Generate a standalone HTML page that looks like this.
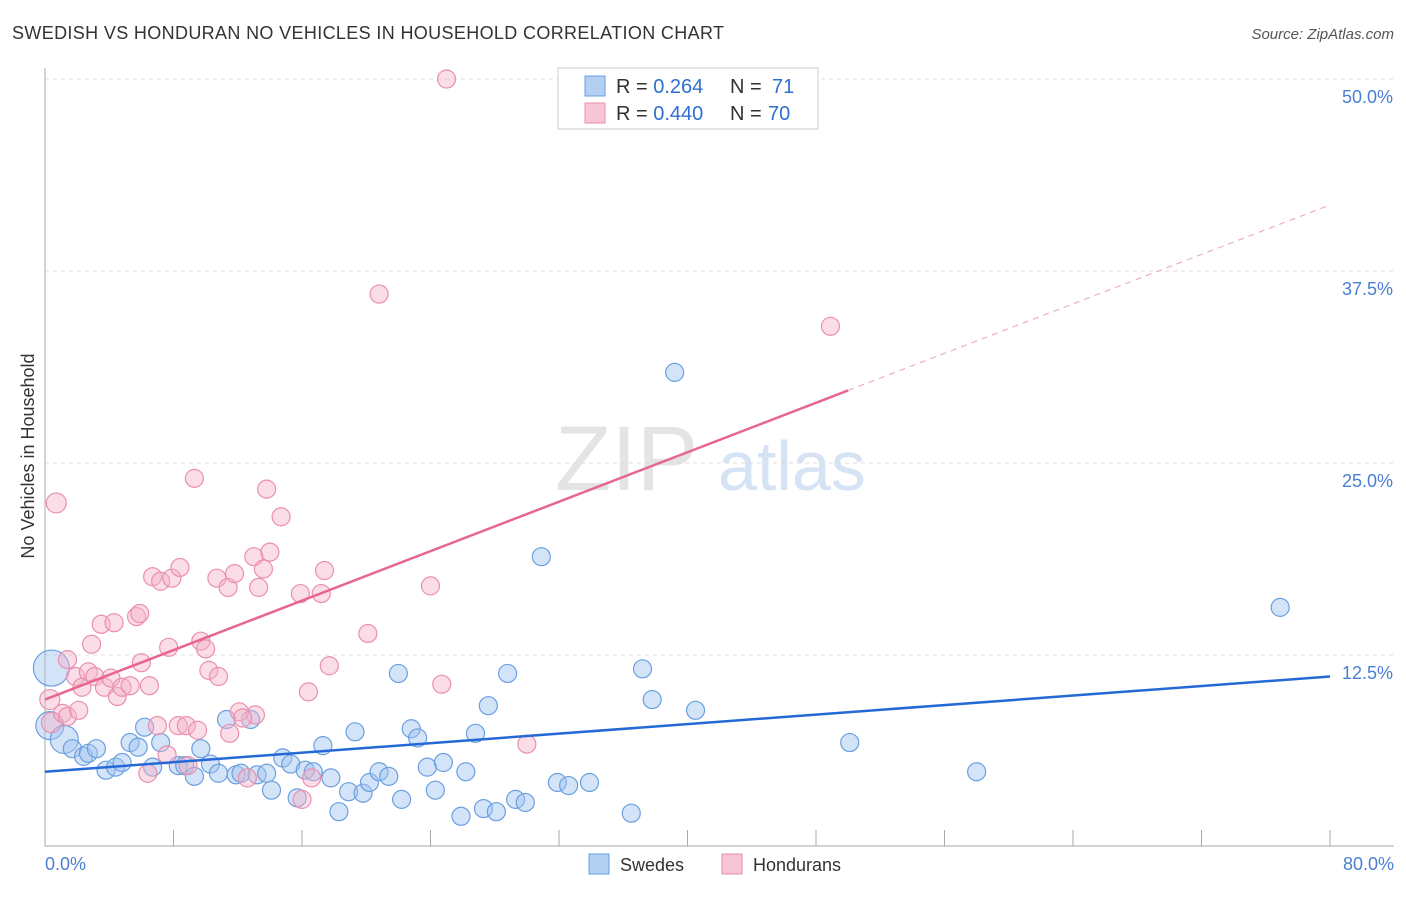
<!DOCTYPE html>
<html><head><meta charset="utf-8"><style>
body{margin:0;background:#fff;font-family:"Liberation Sans",sans-serif;}
svg text{font-family:"Liberation Sans",sans-serif;}
</style></head><body>
<svg id="chart" width="1406" height="892" xmlns="http://www.w3.org/2000/svg">
<text x="12" y="39" font-size="18" fill="#333" textLength="712">SWEDISH VS HONDURAN NO VEHICLES IN HOUSEHOLD CORRELATION CHART</text>
<text x="1394" y="39" font-size="15" font-style="italic" fill="#555" text-anchor="end">Source: ZipAtlas.com</text>
<text x="555" y="490" font-size="92" fill="#e4e4e4" font-family="Liberation Serif">ZIP</text>
<text x="718" y="490" font-size="70" fill="#d6e3f5">atlas</text>
<text transform="translate(34,456) rotate(-90)" font-size="18" fill="#333" text-anchor="middle">No Vehicles in Household</text>
<g id="grid"></g><g id="pts"></g><g id="lines"></g>
<rect x="558" y="68" width="260" height="61" fill="#fff" stroke="#ccc"/>
<rect x="585" y="76" width="20" height="20" fill="#b3cff2" stroke="#6a9fe0"/>
<text x="616" y="93" font-size="20" fill="#333">R = <tspan fill="#2e6fd1">0.264</tspan></text>
<text x="730" y="93" font-size="20" fill="#333">N = <tspan x="772" fill="#2e6fd1">71</tspan></text>
<rect x="585" y="103" width="20" height="20" fill="#f8c5d5" stroke="#eb8fae"/>
<text x="616" y="120" font-size="20" fill="#333">R = <tspan fill="#2e6fd1">0.440</tspan></text>
<text x="730" y="120" font-size="20" fill="#333">N = <tspan x="768" fill="#2e6fd1">70</tspan></text>
<text x="45" y="870" font-size="18" fill="#4a7fd4">0.0%</text>
<text x="1394" y="870" font-size="18" fill="#4a7fd4" text-anchor="end">80.0%</text>
<rect x="589" y="854" width="20" height="20" fill="#b3cff2" stroke="#6a9fe0"/>
<text x="620" y="871" font-size="18" fill="#333">Swedes</text>
<rect x="722" y="854" width="20" height="20" fill="#f8c5d5" stroke="#eb8fae"/>
<text x="753" y="871" font-size="18" fill="#333">Hondurans</text>
</svg>
<script>
const yTicks=[12.5,25,37.5,50];
const yTickLabels=["12.5%","25.0%","37.5%","50.0%"];
const xTicks=[0,8,16,24,32,40,48,56,64,72,80];
const swedesX=[0.4,0.3,1.2,1.7,2.4,2.7,3.2,3.8,4.4,4.8,5.3,5.8,6.2,6.7,7.2,8.3,8.7,9.3,9.7,10.3,10.8,11.3,11.9,12.2,12.8,13.2,13.8,14.1,14.8,15.3,15.7,16.2,16.7,17.3,17.8,18.3,18.9,19.3,19.8,20.2,20.8,21.4,22.0,22.2,22.8,23.2,23.8,24.3,24.8,25.9,26.2,26.8,27.3,27.6,28.1,28.8,29.3,29.9,30.9,31.9,32.6,33.9,36.5,37.2,37.8,39.2,40.5,50.1,58.0,76.9];
const swedesY=[11.65,7.9,7.0,6.4,5.9,6.1,6.4,5.0,5.2,5.5,6.8,6.5,7.8,5.2,6.8,5.3,5.3,4.6,6.4,5.4,4.8,8.3,4.7,4.8,8.3,4.7,4.8,3.7,5.8,5.4,3.2,5.0,4.9,6.6,4.5,2.3,3.6,7.5,3.5,4.2,4.9,4.6,11.3,3.1,7.7,7.1,5.2,3.7,5.5,2.0,4.9,7.4,2.5,9.2,2.3,11.3,3.1,2.9,18.9,4.2,4.0,4.2,2.2,11.6,9.6,30.9,8.9,6.8,4.9,15.6];
const hondX=[0.7,0.3,0.4,1.1,1.4,2.1,1.4,1.9,2.3,2.7,2.9,3.1,3.5,3.7,4.1,4.3,4.5,4.8,5.3,5.7,5.9,6.0,6.5,6.7,7.2,7.7,7.9,8.4,8.3,8.8,7.0,9.5,11.5,12.1,13.1,12.3,6.4,7.6,8.9,12.6,16.6,16.0,9.7,10.0,10.2,10.7,10.8,11.4,11.8,13.0,13.3,13.6,14.0,13.8,14.7,15.9,17.2,17.4,17.7,16.4,20.1,20.8,24.0,24.7,25.0,30.0,48.9,9.3];
const hondY=[22.4,9.6,8.1,8.7,8.5,8.9,12.2,11.1,10.4,11.4,13.2,11.1,14.5,10.4,11.0,14.6,9.8,10.4,10.5,15.0,15.2,12.0,10.5,17.6,17.3,13.0,17.5,18.2,7.9,7.9,7.9,7.6,7.4,8.8,8.6,8.4,4.8,6.0,5.3,4.5,4.5,3.1,13.4,12.9,11.5,17.5,11.1,16.9,17.8,18.9,16.9,18.1,19.2,23.3,21.5,16.5,16.5,18.0,11.8,10.1,13.9,36.0,17.0,10.6,50.0,6.7,33.9,24.0];
const swedesTrend=[4.9,11.1];
const hondTrend=[9.6,41.8];
const hondTrendSolidEnd=50;
const NS="http://www.w3.org/2000/svg";
const X=v=>45+v/80*1285, Y=v=>847-v*15.36;
function mk(t,a,p){const e=document.createElementNS(NS,t);for(const k in a)e.setAttribute(k,a[k]);p.appendChild(e);return e;}
const g=document.getElementById('grid');
yTicks.forEach((t,i)=>{
 const l=mk('line',{x1:45,x2:1394,y1:Y(t),y2:Y(t),stroke:'#ddd','stroke-dasharray':'4,4'},g);
 
 
 const tx=mk('text',{x:1393,y:Y(t)+24,'font-size':18,fill:'#4a7fd4','text-anchor':'end'},g);
 tx.textContent=yTickLabels[i];
 
 
});
const ax=mk('line',{x1:45,x2:45,y1:68,y2:846,stroke:'#aaa'},g);


const bx=mk('line',{x1:45,x2:1394,y1:846,y2:846,stroke:'#aaa'},g);


xTicks.forEach(t=>{
 const l=mk('line',{x1:X(t),x2:X(t),y1:830,y2:846,stroke:'#aaa'},g);
 
 
});
const p=document.getElementById('pts');
swedesX.forEach((x,i)=>{
 const c=mk('circle',{cx:X(x),cy:Y(swedesY[i]),r:i==0?18:(i<3?14:9),fill:'rgba(160,196,240,0.45)',stroke:'#6a9fe0','stroke-width':1.2},p);
 
 
});
hondX.forEach((x,i)=>{
 const c=mk('circle',{cx:X(x),cy:Y(hondY[i]),r:i<3?10:9,fill:'rgba(245,180,200,0.45)',stroke:'#eb8fae','stroke-width':1.2},p);
 
 
});
const L=document.getElementById('lines');
const b=mk('line',{x1:X(0),y1:Y(swedesTrend[0]),x2:X(80),y2:Y(swedesTrend[1]),stroke:'#2469d6','stroke-width':2.5},L);


const hv=v=>hondTrend[0]+(hondTrend[1]-hondTrend[0])*v/80;
const h1=mk('line',{x1:X(0),y1:Y(hondTrend[0]),x2:X(hondTrendSolidEnd),y2:Y(hv(hondTrendSolidEnd)),stroke:'#e8658f','stroke-width':2.5},L);


const h2=mk('line',{x1:X(hondTrendSolidEnd),y1:Y(hv(hondTrendSolidEnd)),x2:X(80),y2:Y(hondTrend[1]),stroke:'#eba0b8','stroke-width':1,'stroke-dasharray':'6,5'},L);


</script>
</body></html>
